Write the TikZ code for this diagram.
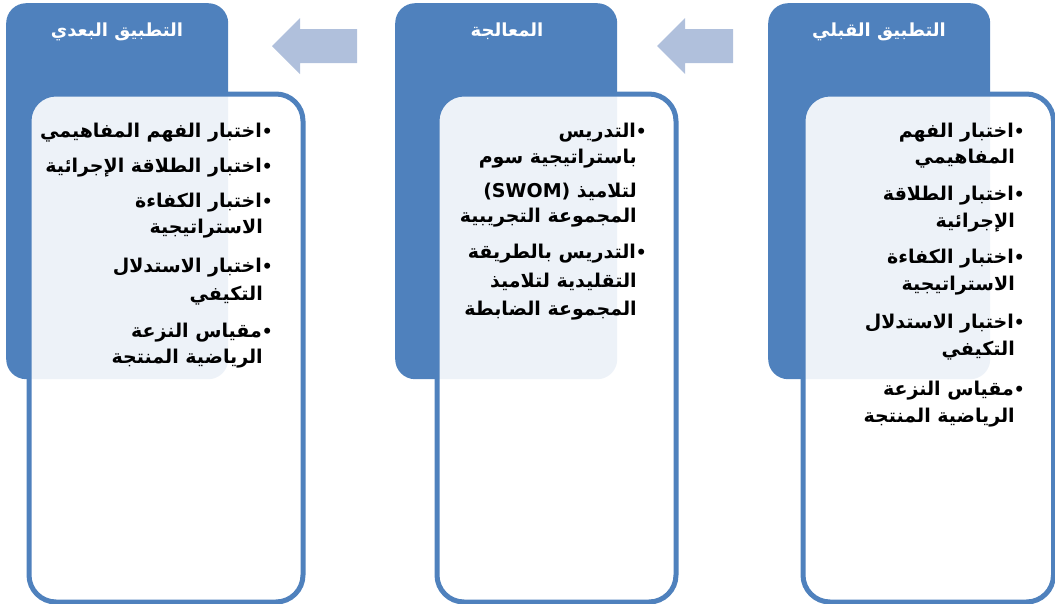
\documentclass[tikz,border=0pt]{standalone}
\usepackage{fontspec}
\TeXXeTstate=1
\newfontfamily\arfont[Script=Arabic]{DejaVu Sans}
\definecolor{hdrblue}{HTML}{4F81BD}
\definecolor{arrblue}{HTML}{B0C0DC}
\tikzset{
  hdrbox/.style={fill=hdrblue, draw=none, rounded corners=20pt, anchor=north west, inner sep=0pt},
  frontbox/.style={draw=hdrblue, line width=5pt, fill=white, fill opacity=0.9, rounded corners=27pt, anchor=north west, inner sep=0pt},
  hdrtext/.style={text=white, anchor=base, inner sep=0pt, font=\arfont\bfseries\fontsize{18}{22}\selectfont},
  ln/.style={anchor=base east, inner sep=0pt, text=black, font=\arfont\bfseries\fontsize{19}{23}\selectfont},
  flowarrow/.style={fill=arrblue, draw=none}
}
\newcommand{\bul}{\mbox{\fontsize{17}{17}\selectfont •}}
\begin{document}
\begin{tikzpicture}[x=1pt,y=-1pt]
\useasboundingbox (0,0) rectangle (1055,603);
% header boxes
\node[hdrbox, minimum width=222pt, minimum height=376pt] (h1) at (6,3) {};
\node[hdrbox, minimum width=222pt, minimum height=376pt] (h2) at (395,3) {};
\node[hdrbox, minimum width=222pt, minimum height=376pt] (h3) at (768,3) {};
% front boxes
\node[frontbox, minimum width=274pt, minimum height=508pt] (f1) at (26.5,91.5) {};
\node[frontbox, minimum width=239pt, minimum height=508pt] (f2) at (434.5,91.5) {};
\node[frontbox, minimum width=250.5pt, minimum height=508pt] (f3) at (800.5,91.5) {};
% arrows
\fill[flowarrow] (272,46) -- (300,18) -- (300,29) -- (357,29) -- (357,63) -- (300,63) -- (300,74) -- cycle;
\fill[flowarrow] (657,46) -- (685,18) -- (685,29) -- (733,29) -- (733,63) -- (685,63) -- (685,74) -- cycle;
% header texts
\node[hdrtext] (t1) at (117,36) {\beginR التطبيق البعدي\endR};
\node[hdrtext] (t2) at (507,36) {\beginR المعالجة\endR};
\node[hdrtext] (t3) at (879,36) {\beginR التطبيق القبلي\endR};
% left column
\node[ln] (a1) at (273,137) {\beginR\bul اختبار الفهم المفاهيمي\endR};
\node[ln] (a2) at (273,172) {\beginR\bul اختبار الطلاقة الإجرائية\endR};
\node[ln] (a3) at (273,207) {\beginR\bul اختبار الكفاءة\endR};
\node[ln] (a4) at (263,233) {\beginR الاستراتيجية\endR};
\node[ln] (a5) at (273,272) {\beginR\bul اختبار الاستدلال\endR};
\node[ln] (a6) at (263,300) {\beginR التكيفي\endR};
\node[ln] (a7) at (273,337) {\beginR\bul مقياس النزعة\endR};
\node[ln] (a8) at (263,363) {\beginR الرياضية المنتجة\endR};
% middle column
\node[ln] (b1) at (647,137) {\beginR\bul التدريس\endR};
\node[ln] (b2) at (637,163) {\beginR باستراتيجية سوم\endR};
\node[ln] (b3) at (637,197) {\beginR لتلاميذ \beginL(SWOM)\endL\endR};
\node[ln] (b4) at (637,222) {\beginR المجموعة التجريبية\endR};
\node[ln] (b5) at (647,258) {\beginR\bul التدريس بالطريقة\endR};
\node[ln] (b6) at (637,287) {\beginR التقليدية لتلاميذ\endR};
\node[ln] (b7) at (637,315) {\beginR المجموعة الضابطة\endR};
% right column
\node[ln] (c1) at (1025,137) {\beginR\bul اختبار الفهم\endR};
\node[ln] (c2) at (1015,163) {\beginR المفاهيمي\endR};
\node[ln] (c3) at (1025,200) {\beginR\bul اختبار الطلاقة\endR};
\node[ln] (c4) at (1015,227) {\beginR الإجرائية\endR};
\node[ln] (c5) at (1025,263) {\beginR\bul اختبار الكفاءة\endR};
\node[ln] (c6) at (1015,290) {\beginR الاستراتيجية\endR};
\node[ln] (c7) at (1025,328) {\beginR\bul اختبار الاستدلال\endR};
\node[ln] (c8) at (1015,355) {\beginR التكيفي\endR};
\node[ln] (c9) at (1025,395) {\beginR\bul مقياس النزعة\endR};
\node[ln] (c10) at (1015,422) {\beginR الرياضية المنتجة\endR};
\end{tikzpicture}
\end{document}
